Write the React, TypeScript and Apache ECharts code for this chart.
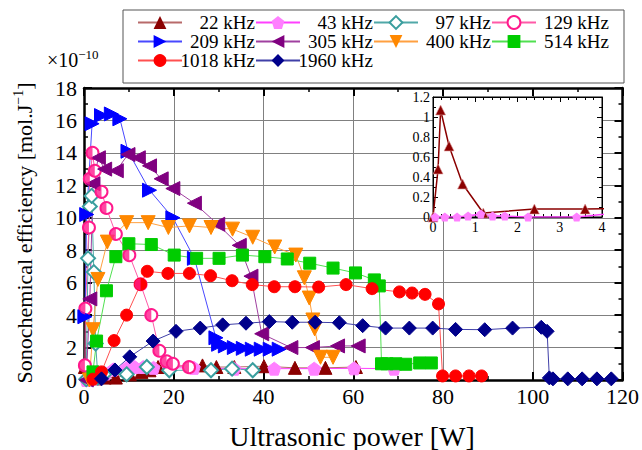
import React, { useEffect, useRef } from 'react';
import * as echarts from 'echarts';

const FONT = 'Liberation Serif';

// ---------- data (W, ×1e-10 mol/J) ----------
const names = ['22 kHz', '43 kHz', '97 kHz', '129 kHz', '209 kHz', '305 kHz', '400 kHz', '514 kHz', '1018 kHz', '1960 kHz'];

const d22 = [[0.2, 0.8], [2.5, 0.1], [4.6, 0.15], [7.1, 0.15], [10.2, 0.35], [12.8, 0.5], [14.6, 0.6], [16.5, 0.8], [26.4, 0.9], [29.5, 0.8], [33.5, 0.8], [40.1, 0.85], [47.0, 0.75], [53.8, 0.75], [60.6, 0.8]];
const d43 = [[0.5, 0.0], [2.5, 0.1], [4.8, 0.4], [6.5, 0.65], [9.5, 0.75], [11.3, 0.8], [13.2, 0.8], [15.5, 0.75], [24.5, 0.75], [33.5, 0.7], [42.4, 0.7], [51.3, 0.7], [60.2, 0.72], [69.1, 0.7]];
const d97 = [[0.5, 0.05], [0.9, 7.5], [1.3, 10.7], [1.7, 11.35], [2.2, 6.65], [2.6, 2.25], [3.1, 0.15], [4.5, 0.35], [9.5, 0.35], [14.0, 0.8], [19.0, 0.6], [28.3, 0.6], [33.0, 0.7], [37.6, 0.6]];
const d129 = [[0.2, 0.9], [0.3, 4.4], [1.1, 9.4], [1.3, 12.4], [1.9, 14.0], [2.4, 12.9], [3.9, 11.6], [5.0, 10.6], [7.1, 9.0], [10.1, 7.7], [12.6, 5.9], [15.0, 4.0], [16.8, 1.8], [18.4, 1.15], [19.8, 1.0], [23.4, 0.79]];
const d209 = [[0.2, 3.9], [0.6, 10.2], [1.8, 15.8], [3.9, 16.3], [6.1, 16.4], [8.0, 16.1], [9.8, 14.1], [14.6, 11.7], [19.8, 10.0], [24.6, 7.5], [29.4, 2.6], [30.0, 2.2], [31.5, 2.1], [33.5, 2.0], [35.5, 1.95], [37.5, 1.9], [39.5, 1.9], [41.5, 1.9], [43.5, 1.9]];
const d305 = [[0.5, 0.0], [1.3, 5.0], [2.0, 12.1], [3.2, 13.7], [4.6, 13.0], [7.2, 12.9], [9.8, 13.9], [12.1, 13.7], [14.6, 13.2], [17.2, 12.4], [19.8, 11.8], [24.6, 10.9], [29.8, 9.6], [34.6, 8.3], [37.2, 6.4], [39.6, 2.85], [46.1, 2.0], [50.9, 2.0], [56.5, 2.1], [61.1, 2.1]];
const d400 = [[1.2, 0.0], [2.0, 3.1], [3.1, 6.2], [5.2, 8.5], [9.5, 9.7], [14.3, 9.7], [18.8, 9.4], [23.5, 9.5], [28.3, 9.4], [33.1, 9.3], [37.6, 8.8], [42.5, 8.2], [47.2, 7.7], [49.1, 6.3], [50.2, 5.05], [51.0, 3.7], [51.4, 3.15], [52.7, 1.4], [55.5, 1.4]];
const d514 = [[2.0, 0.5], [2.8, 2.4], [5.0, 5.5], [7.1, 7.6], [10.0, 8.4], [15.0, 8.35], [20.1, 7.7], [25.1, 7.5], [30.1, 7.5], [35.3, 7.7], [40.3, 7.6], [45.3, 7.46], [50.3, 7.2], [55.5, 6.9], [60.5, 6.6], [64.7, 6.17], [65.8, 5.8], [66.3, 1.0], [67.5, 1.0], [69.5, 1.0], [71.7, 0.97], [74.8, 1.05], [77.4, 1.05]];
const d1018 = [[2.0, 0.05], [3.9, 0.5], [6.7, 2.43], [9.5, 4.0], [12.6, 5.9], [14.1, 6.7], [18.7, 6.57], [23.5, 6.57], [28.2, 6.43], [33.0, 6.12], [37.5, 5.88], [42.4, 5.75], [47.0, 5.75], [52.3, 5.73], [58.4, 5.88], [64.2, 5.63], [70.3, 5.43], [73.1, 5.36], [76.0, 5.28], [79.0, 4.69], [79.9, 0.25], [82.8, 0.25], [85.8, 0.25], [88.6, 0.25]];
const d1960 = [[3.9, 0.07], [6.9, 0.62], [10.2, 1.43], [15.4, 2.4], [20.5, 3.0], [25.9, 3.2], [30.9, 3.4], [36.1, 3.5], [41.3, 3.6], [46.4, 3.56], [51.5, 3.56], [56.9, 3.53], [62.1, 3.35], [67.2, 3.2], [72.5, 3.2], [77.7, 3.2], [82.8, 3.12], [89.3, 3.1], [95.5, 3.2], [101.9, 3.25], [103.2, 3.0], [103.7, 0.13], [104.5, 0.07], [107.8, 0.07], [111.0, 0.07], [114.3, 0.07], [117.5, 0.07]];

// inset (0–4 W zoom)
const in22 = [[0, 0], [0.12, 0.48], [0.18, 1.07], [0.38, 0.71], [0.7, 0.33], [1.19, 0.04], [2.4, 0.08], [3.6, 0.08], [4.8, 0.09]];
const in43 = [[0.05, 0], [0.28, 0], [0.57, 0], [0.83, 0.01], [1.13, 0.03], [1.41, 0.01], [1.7, 0.01], [2.25, 0], [3.4, 0], [4.6, 0.05]];

const xTicks = { min: 0, max: 120, interval: 20 };
const yTicks = { min: 0, max: 18, interval: 2 };
const insetX = { min: 0, max: 4, interval: 1 };
const insetY = { min: 0, max: 1.2, interval: 0.2 };

const PENTAGON = 'path://M50,0 L97.55,34.55 L79.39,90.45 L20.61,90.45 L2.45,34.55 Z';
const HALF = 'path://M10,0 A10,10 0 0 0 10,20 Z';

function lineSeries(name: string, data: number[][], symbol: string, size: number, rotate: number, marker: string, line: string, extra: any = {}) {
  return {
    name,
    type: 'line',
    data,
    xAxisIndex: 0,
    yAxisIndex: 0,
    symbol,
    symbolSize: size,
    symbolRotate: rotate,
    showSymbol: true,
    lineStyle: { color: line, width: 1 },
    itemStyle: { color: marker, borderColor: marker, ...(extra.itemStyle || {}) },
    z: extra.z || 2,
  };
}

const axisBase = (show: boolean) => ({
  type: 'value',
  axisLine: { show: true, onZero: false, lineStyle: { color: '#000', width: 2.5 } },
  axisTick: { show: true, inside: true, length: 8, lineStyle: { color: '#000', width: 2 } },
  minorTick: { show: true, splitNumber: 2, length: 4, lineStyle: { color: '#000', width: 1.5 } },
  axisLabel: { show, fontSize: 22, fontFamily: FONT, color: '#000' },
});

const insetAxis = (show: boolean, split: number) => ({
  type: 'value',
  z: 11,
  axisLine: { show: true, onZero: false, lineStyle: { color: '#000', width: 1 } },
  axisTick: { show: true, inside: true, length: 5, lineStyle: { color: '#000', width: 1 } },
  minorTick: { show: true, splitNumber: split, length: 3, lineStyle: { color: '#000', width: 1 } },
  axisLabel: { show, fontSize: 14, fontFamily: FONT, color: '#000', margin: 3 },
  splitLine: { show: false },
});

export default function App() {
  const ref = useRef<HTMLDivElement>(null);
  useEffect(() => {
    if (!ref.current) return;
    const chart = echarts.init(ref.current, undefined, { renderer: 'svg' });
    const option: any = {
      animation: false,
      backgroundColor: '#fff',
      textStyle: { fontFamily: FONT },
      grid: [
        { left: 84, right: 17, top: 88, bottom: 70 },
        { left: 433, right: 40, top: 97, bottom: 233, show: true, z: 10, backgroundColor: '#fff', borderColor: '#000', borderWidth: 1 },
      ],
      xAxis: [
        { ...axisBase(true), gridIndex: 0, position: 'bottom', ...xTicks, axisLabel: { show: true, fontSize: 22, fontFamily: FONT, color: '#000', margin: 5 }, splitLine: { show: true, lineStyle: { color: '#808080', width: 1 } } },
        { ...axisBase(false), gridIndex: 0, position: 'top', ...xTicks, splitLine: { show: false } },
        { ...insetAxis(true, 5), gridIndex: 1, position: 'bottom', ...insetX },
        { ...insetAxis(false, 5), gridIndex: 1, position: 'top', ...insetX },
      ],
      yAxis: [
        { ...axisBase(true), gridIndex: 0, position: 'left', ...yTicks, axisLabel: { show: true, fontSize: 22, fontFamily: FONT, color: '#000', margin: 7 }, splitLine: { show: true, lineStyle: { color: '#808080', width: 1 } } },
        { ...axisBase(false), gridIndex: 0, position: 'right', ...yTicks, splitLine: { show: false } },
        { ...insetAxis(true, 2), gridIndex: 1, position: 'left', ...insetY },
        { ...insetAxis(false, 2), gridIndex: 1, position: 'right', ...insetY },
      ],
      legend: {
        data: names,
        left: 137,
        top: 13,
        width: 520,
        padding: 0,
        itemWidth: 44,
        itemHeight: 16,
        itemGap: 0,
        formatter: (n: string) => `{t|${n}}`,
        textStyle: { fontFamily: FONT, rich: { t: { width: 68, align: 'right', fontSize: 19, fontFamily: FONT, color: '#000', lineHeight: 23.5 } } },
      },
      graphic: [
        { type: 'rect', shape: { x: 123, y: 10, width: 501, height: 73 }, style: { fill: 'none', stroke: '#555', lineWidth: 1 }, z: 0 },
        {
          type: 'text', x: 47, y: 60,
          style: {
            text: '{a|×10}{s|−10}', align: 'left', verticalAlign: 'middle',
            rich: { a: { fontSize: 20, fontFamily: FONT, fill: '#000', lineHeight: 24 }, s: { fontSize: 13, fontFamily: FONT, fill: '#000', lineHeight: 14, verticalAlign: 'top' } },
          },
        },
        {
          type: 'text', x: 352, y: 436,
          style: { text: 'Ultrasonic power [W]', fontSize: 28, fontFamily: FONT, fill: '#000', align: 'center', verticalAlign: 'middle' },
        },
        {
          type: 'text', x: 24, y: 233, rotation: Math.PI / 2,
          style: {
            text: '{a|Sonochemical efficiency [mol.J}{s|−1}{a|]}', align: 'center', verticalAlign: 'middle',
            rich: { a: { fontSize: 22, fontFamily: FONT, fill: '#000', lineHeight: 26 }, s: { fontSize: 14, fontFamily: FONT, fill: '#000', lineHeight: 15, verticalAlign: 'top' } },
          },
        },
      ],
      series: [
        lineSeries('22 kHz', d22, 'triangle', 13, 0, '#8b0000', '#b86a6a'),
        lineSeries('43 kHz', d43, PENTAGON, 13, 0, '#ff80ff', '#ff40ff'),
        lineSeries('97 kHz', d97, 'emptyDiamond', 14, 0, '#3a9e9e', '#50a8a8', { itemStyle: { borderWidth: 1.2 } }),
        lineSeries('129 kHz', d129, 'emptyCircle', 12, 0, '#ff1a8c', '#ff5aa8', { itemStyle: { borderWidth: 1.2 } }),
        {
          name: '129 kHz', type: 'scatter', data: d129, xAxisIndex: 0, yAxisIndex: 0,
          symbol: HALF, symbolSize: 12, symbolKeepAspect: true, symbolOffset: [-3, 0],
          itemStyle: { color: '#ff1a8c', borderWidth: 0 }, z: 3,
        },
        lineSeries('209 kHz', d209, 'triangle', 14, -90, '#0000ff', '#4848ff'),
        lineSeries('305 kHz', d305, 'triangle', 14, 90, '#800080', '#a040a0'),
        lineSeries('400 kHz', d400, 'triangle', 14, 180, '#ff8800', '#ffa040'),
        lineSeries('514 kHz', d514, 'rect', 12, 0, '#00cc00', '#50e050'),
        lineSeries('1018 kHz', d1018, 'circle', 12, 0, '#ff0000', '#ff5050'),
        lineSeries('1960 kHz', d1960, 'diamond', 14, 0, '#00008b', '#4040a8'),
        {
          name: 'inset 22', type: 'line', data: in22, xAxisIndex: 2, yAxisIndex: 2, z: 12,
          symbol: 'triangle', symbolSize: 10, showSymbol: true,
          lineStyle: { color: '#8b0000', width: 1.5 }, itemStyle: { color: '#8b0000', borderColor: '#e0a0a0', borderWidth: 0.6 },
        },
        {
          name: 'inset 43', type: 'line', data: in43, xAxisIndex: 2, yAxisIndex: 2, z: 12,
          symbol: PENTAGON, symbolSize: 9, showSymbol: true,
          lineStyle: { color: '#ff40ff', width: 1.5 }, itemStyle: { color: '#ff80ff' },
        },
      ],
    };
    chart.setOption(option);
    return () => chart.dispose();
  }, []);
  return <div ref={ref} style={{ position: 'fixed', left: 0, top: 0, width: 642, height: 450 }} />;
}
